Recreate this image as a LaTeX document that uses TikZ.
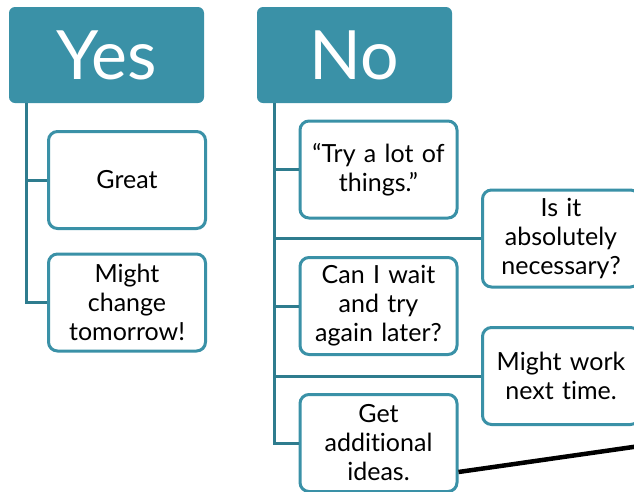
\documentclass[tikz,border=0pt]{standalone}
\usepackage{fontspec}
\setmainfont{Lato}[Ligatures={TeX,NoCommon}]
\definecolor{tealhead}{RGB}{58,145,167}
\definecolor{tealline}{RGB}{46,124,142}
\tikzset{
  head/.style={fill=tealhead, rounded corners=6pt, minimum width=195pt,
    minimum height=96pt, inner sep=0pt, text=white,
    font=\fontsize{68}{70}\selectfont},
  leaf/.style={draw=tealhead, line width=3pt, fill=white, rounded corners=9pt,
    minimum width=157pt, minimum height=97pt, inner sep=0pt,
    text width=150pt, align=center, font=\fontsize{25}{29}\selectfont},
  link/.style={draw=tealline, line width=3pt},
}
\begin{document}
\begin{tikzpicture}[x=1pt,y=-1pt]
\useasboundingbox (0,0) rectangle (634,491);
\clip (0,0) rectangle (634,491);
\pgfmathsetmacro{\xleft}{127}
\pgfmathsetmacro{\xmid}{378.5}
\pgfmathsetmacro{\xright}{561}
\pgfmathsetmacro{\trunk}{18}
% headings
  \node[head] (yes) at (106.5,55) {Yes};
  \node[head] (no) at (354.5,55) {No};
% answers under Yes
  \node[leaf] (great) at (\xleft,180) {Great};
  \node[leaf] (change) at (\xleft,302.5) {Might\\change\\tomorrow!};
% answers under No
  \node[leaf] (trylot) at (\xmid,169.5) {“Try a lot of\\things.”};
  \node[leaf] (necessary) at (\xright,238.5) {Is it\\absolutely\\necessary?};
  \node[leaf] (wait) at (\xmid,306) {Can I wait\\and try\\again later?};
  \node[leaf] (nexttime) at (\xright,376) {Might work\\next time.};
  \node[leaf] (ideas) at (\xmid,443) {Get\\additional\\ideas.};
% tree lines
  \coordinate (yesroot) at ([xshift=\trunk pt]yes.south west);
  \coordinate (noroot) at ([xshift=\trunk pt]no.south west);
  \draw[link] (yesroot) |- (change.west);
  \draw[link] (yesroot |- great.west) -- (great.west);
  \draw[link] (noroot) |- (ideas.west);
  \draw[link] (noroot |- trylot.west) -- (trylot.west);
  \draw[link] (noroot |- necessary.west) -- (necessary.west);
  \draw[link] (noroot |- wait.west) -- (wait.west);
  \draw[link] (noroot |- nexttime.west) -- (nexttime.west);
% the black stroke
  \coordinate (offpage) at (640,446);
  \draw[line width=4.5pt] ([yshift=-29pt]ideas.east) -- (offpage);
\end{tikzpicture}
\end{document}
